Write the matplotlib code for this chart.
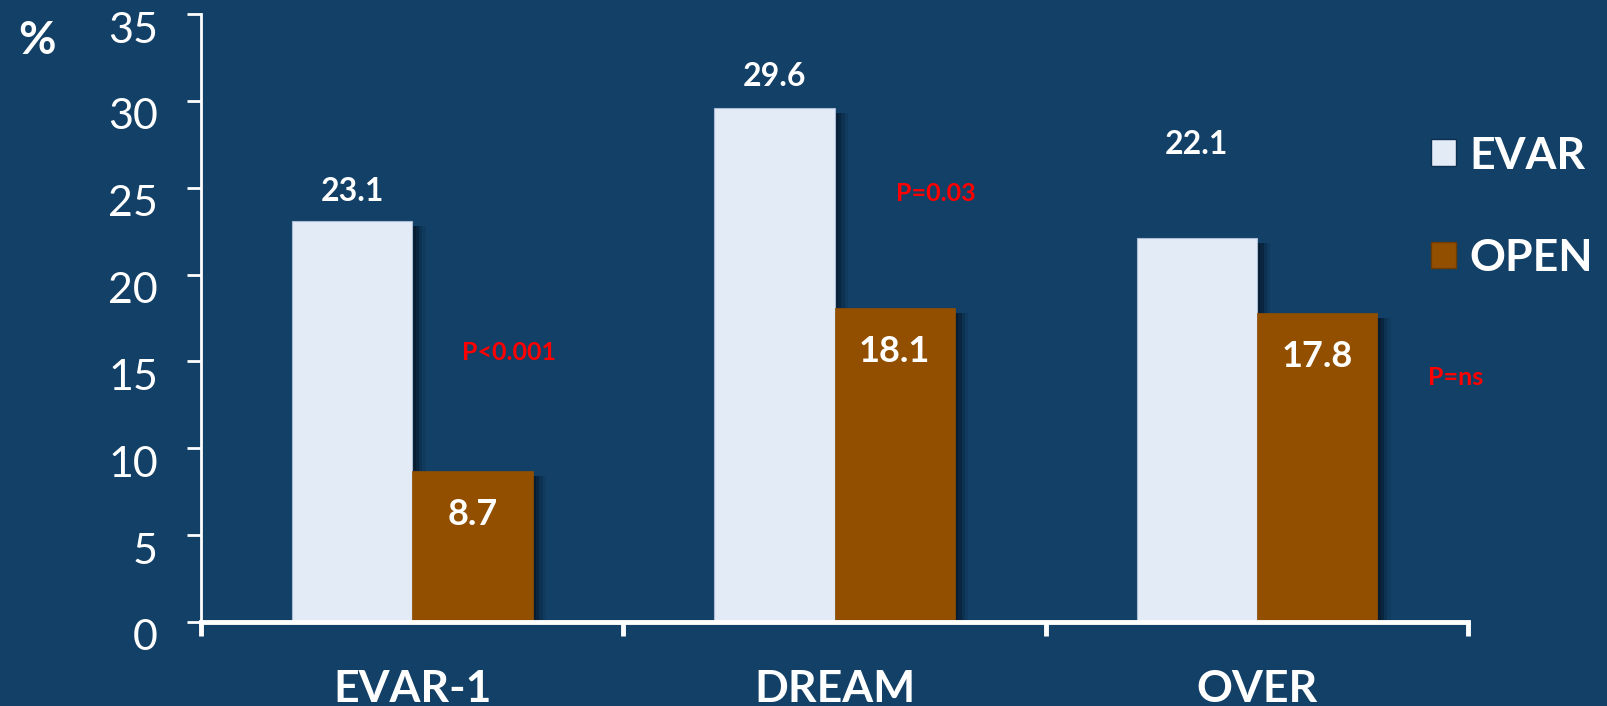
import matplotlib as mpl
mpl.use('agg')
import matplotlib.pyplot as plt
from matplotlib.patches import Patch
from matplotlib.transforms import ScaledTranslation
import numpy as np

plt.rcParams['font.family'] = ['Lato', 'DejaVu Sans']

## data
trials = ['EVAR-1', 'DREAM', 'OVER']
evar = [23.1, 29.6, 22.1]
open_repair = [8.7, 18.1, 17.8]
p_labels = ['P<0.001', 'P=0.03', 'P=ns']
p_pos = [(0.73, 15.5), (1.74, 24.7), (2.97, 14.1)]   # where the p-values sit
evar_lbl_off = [1.7, 1.8, 5.4]     # label height above EVAR bar

bg = '#124066'
c_evar = '#e3ebf6'
c_open = '#924f00'

fig = plt.figure(figsize=(16.08, 7.06), dpi=100, facecolor=bg)
ax = fig.add_axes([0.125, 0.119, 0.788, 0.861])
ax.set_facecolor(bg)

x = np.arange(len(trials)) + 0.5
w = 0.285

# soft shadows to the right of the bars
for k, a in enumerate([0.55, 0.4, 0.25, 0.12]):
    off = 0.008 + 0.008 * k
    ax.bar(x - w / 2 + off, np.array(evar) - 0.3, w, bottom=0, color='#061728', alpha=a, zorder=1)
    ax.bar(x + w / 2 + off, np.array(open_repair) - 0.3, w, bottom=0, color='#061728', alpha=a, zorder=1)

ax.bar(x - w / 2, evar, w, color=c_evar, edgecolor='#a9bcd6', linewidth=0.8, zorder=2)
ax.bar(x + w / 2, open_repair, w, color=c_open, edgecolor=c_open, linewidth=0.5, zorder=2)

for xi, v, o in zip(x, evar, evar_lbl_off):
    ax.text(xi - w / 2, v + o, f'{v}', color='white', fontsize=23, fontweight='bold',
            ha='center', va='center', zorder=3)
for xi, v in zip(x, open_repair):
    ax.text(xi + w / 2, v - 2.5, f'{v}', color='white', fontsize=26, fontweight='bold',
            ha='center', va='center', zorder=3)
for s, (px, py) in zip(p_labels, p_pos):
    ax.text(px, py, s, color='#ff0000', fontsize=18, fontweight='bold',
            ha='center', va='center', zorder=3)

ax.set_xlim(0, 3)
ax.set_ylim(0, 35)
ax.set_yticks(range(0, 36, 5))
ax.set_xticks([0, 1, 2, 3])
ax.set_xticklabels([])
ax.set_xticks(x, minor=True)
ax.set_xticklabels(trials, minor=True)

for sp in ['top', 'right']:
    ax.spines[sp].set_visible(False)
ax.spines['left'].set_color('white')
ax.spines['left'].set_linewidth(2)
ax.spines['bottom'].set_color('white')
ax.spines['bottom'].set_linewidth(3.5)

ax.tick_params(axis='y', colors='white', labelsize=31, length=10, width=2, pad=21)
shift = ScaledTranslation(0, -0.13, fig.dpi_scale_trans)
for lbl in ax.get_yticklabels():
    lbl.set_transform(lbl.get_transform() + shift)
ax.tick_params(axis='x', which='major', colors='white', length=10, width=3.5, direction='out')
ax.tick_params(axis='x', which='minor', colors='white', length=0, labelsize=32, pad=34)
for lbl in ax.get_xticklabels(minor=True):
    lbl.set_fontweight('bold')

fig.text(0.023, 0.942, '%', color='white', fontsize=33, fontweight='bold',
         ha='center', va='center')

handles = [Patch(facecolor=c_evar, edgecolor='#0d2f52', label='EVAR'),
           Patch(facecolor=c_open, edgecolor='#6f3c00', label='OPEN')]
leg = fig.legend(handles=handles, loc='upper left', bbox_to_anchor=(0.890, 0.808),
                 frameon=False, fontsize=32, handlelength=0.55, handleheight=0.55,
                 handletextpad=0.3, labelspacing=1.4, borderpad=0, borderaxespad=0)
for t in leg.get_texts():
    t.set_color('white')
    t.set_fontweight('bold')

fig.savefig('out.png', dpi=100, facecolor=bg)
